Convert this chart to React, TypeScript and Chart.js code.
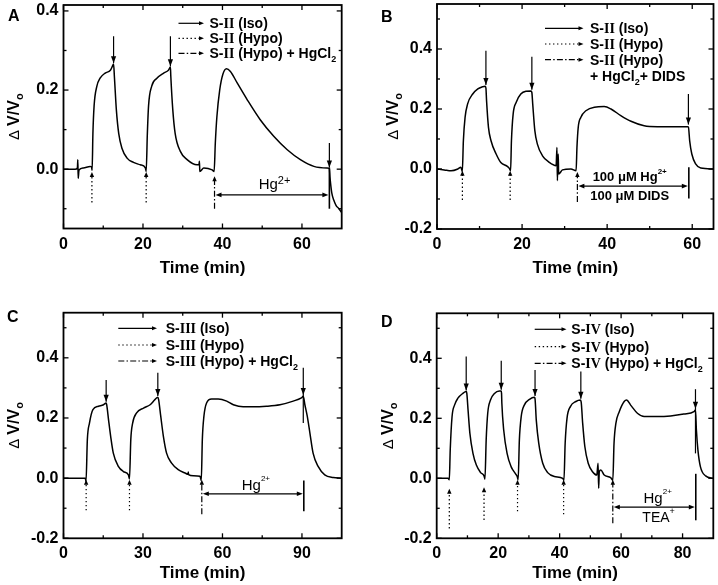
import React, { useEffect, useRef } from "react";
import { Chart, registerables } from "chart.js";

Chart.register(...registerables);

const SANS = "'Liberation Sans', Arial, Helvetica, sans-serif";
const SERIF = "'Liberation Serif', 'Times New Roman', serif";

// ================= Panel A (S-II, HgCl2) =================
const aTime = [0, 2.9, 3.5, 3.6, 3.7, 3.9, 5.0, 6.7, 7.05, 7.2, 7.4, 7.7, 8.4, 9.2, 10.5, 11.8, 12.3, 12.6, 12.8, 13.3, 13.9, 14.7, 16.0, 17.6, 19.3, 20.6, 20.8, 21.1, 21.4, 22.2, 23.5, 25.2, 26.4, 26.9, 27.0, 27.5, 28.1, 29.4, 31.1, 33.6, 34.1, 34.2, 34.3, 35.3, 37.4, 37.9, 38.2, 38.6, 39.3, 40.1, 41.0, 42.0, 43.7, 46.2, 49.5, 52.9, 56.3, 59.6, 63.0, 66.3, 66.9, 67.05, 67.2, 67.5, 68.0, 68.6, 69.3, 70];
const aValue = [0, 0, 0.003, 0.024, -0.023, -0.002, 0.003, 0.007, 0.006, -0.003, 0.09, 0.16, 0.21, 0.23, 0.243, 0.25, 0.26, 0.266, 0.235, 0.15, 0.09, 0.053, 0.028, 0.017, 0.011, 0.003, -0.006, 0.09, 0.16, 0.21, 0.23, 0.243, 0.25, 0.258, 0.235, 0.15, 0.09, 0.045, 0.024, 0.011, 0.012, 0.02, -0.006, 0.003, -0.002, -0.006, 0.066, 0.133, 0.2, 0.24, 0.254, 0.247, 0.218, 0.176, 0.125, 0.083, 0.049, 0.024, 0.007, 0.003, 0.002, -0.02, -0.036, -0.06, -0.078, -0.092, -0.1, -0.11];
const aXTicks = [0, 20, 40, 60];
const aXMinor = [10, 30, 50];
const aYTicks = [0, 0.2, 0.4];
const aYMinor = [-0.1, 0.1, 0.3];
const aIsoTime = [12.6, 26.9, 66.9];
const aIsoTop = [0.336, 0.336, 0.066];
const aIsoTip = [0.268, 0.26, 0.004];
const aIsoEnd = [0.268, 0.26, 0.004];
const aHypoTime = [7.15, 20.8];
const aHypoBottom = [-0.084, -0.084];
const aHypoTip = [-0.007, -0.007];
const aHg = [38.0, -0.1, -0.018]; // time, bottom, tip
const aBar = [66.9, 0.004, -0.1]; // time, top, bottom
const aSpanY = -0.065;
const aNoteTime = [53.1];
const aNoteValue = [-0.05];

// ================= Panel B (S-II, HgCl2 + DIDS) =================
const bTime = [0, 1.7, 3.3, 4.9, 5.6, 5.95, 6.2, 6.6, 7.2, 8.4, 9.6, 10.7, 11.3, 11.5, 11.65, 12.1, 12.7, 13.9, 15.0, 16.6, 17.0, 17.3, 17.5, 17.9, 18.6, 19.7, 20.9, 22.1, 22.3, 22.5, 23.0, 23.6, 24.8, 26.4, 28.0, 28.2, 28.3, 28.5, 28.6, 29.5, 31.5, 32.7, 32.9, 33.2, 33.8, 35.0, 37.0, 39.3, 40.9, 43.2, 45.6, 48.7, 51.8, 55.8, 58.9, 59.1, 59.4, 59.9, 60.8, 62.0, 65];
const bValue = [0, -0.003, -0.006, 0, 0.006, -0.008, 0.094, 0.172, 0.217, 0.25, 0.267, 0.274, 0.276, 0.27, 0.228, 0.139, 0.094, 0.05, 0.022, 0.008, 0.002, -0.006, 0.094, 0.183, 0.222, 0.25, 0.259, 0.26, 0.255, 0.217, 0.128, 0.083, 0.044, 0.022, 0.011, 0.072, -0.039, 0.05, -0.017, -0.003, 0, -0.006, 0.072, 0.139, 0.172, 0.194, 0.206, 0.208, 0.2, 0.178, 0.159, 0.144, 0.141, 0.141, 0.141, 0.14, 0.094, 0.05, 0.017, 0.003, 0];
const bXTicks = [0, 20, 40, 60];
const bXMinor = [10, 30, 50];
const bYTicks = [-0.2, 0, 0.2, 0.4];
const bYMinor = [-0.1, 0.1, 0.3, 0.5];
const bIsoTime = [11.5, 22.3, 59.1];
const bIsoTop = [0.394, 0.374, 0.25];
const bIsoTip = [0.28, 0.264, 0.148];
const bIsoEnd = [0.28, 0.264, 0.148];
const bHypoTime = [5.97, 17.2];
const bHypoBottom = [-0.103, -0.103];
const bHypoTip = [-0.006, -0.006];
const bHg = [33.0, -0.11, -0.01];
const bBar = [59.2, 0.006, -0.098];
const bSpanY = -0.057;
const bNoteTime = [45.3, 45.3];
const bNoteValue = [-0.039, -0.103];

// ================= Panel C (S-III, HgCl2) =================
const cTime = [0, 8.2, 8.5, 9.0, 9.8, 11.1, 13.2, 15.1, 16.1, 16.3, 17.0, 17.8, 18.8, 20.7, 22.6, 24.5, 24.9, 25.4, 26.1, 27.6, 30.2, 32.7, 34.5, 35.6, 35.9, 36.7, 37.7, 38.9, 40.8, 43.3, 45.9, 47.0, 47.1, 47.2, 49.0, 51.5, 52.0, 52.4, 53.0, 54.0, 55.9, 58.4, 61.6, 64.1, 67.8, 71.6, 76.6, 81.7, 86.7, 89.8, 90.5, 91.1, 92.0, 93.0, 94.2, 96.1, 98.6, 101.8, 105];
const cValue = [0, 0, -0.011, 0.128, 0.183, 0.228, 0.239, 0.244, 0.25, 0.244, 0.194, 0.139, 0.083, 0.039, 0.022, 0.011, -0.003, 0.128, 0.183, 0.217, 0.233, 0.244, 0.261, 0.269, 0.261, 0.206, 0.139, 0.083, 0.05, 0.028, 0.017, 0.013, 0.02, 0.012, 0.008, 0.006, -0.008, 0.128, 0.206, 0.25, 0.263, 0.263, 0.256, 0.244, 0.237, 0.237, 0.239, 0.244, 0.256, 0.267, 0.272, 0.244, 0.206, 0.15, 0.083, 0.039, 0.011, 0.002, 0];
const cXTicks = [0, 30, 60, 90];
const cXMinor = [15, 45, 75];
const cYTicks = [-0.2, 0, 0.2, 0.4];
const cYMinor = [-0.1, 0.1, 0.3, 0.5];
const cIsoTime = [16.1, 35.6, 90.5];
const cIsoTop = [0.326, 0.35, 0.367];
const cIsoTip = [0.254, 0.273, 0.276];
const cIsoEnd = [0.254, 0.273, 0.183];
const cHypoTime = [8.55, 24.9];
const cHypoBottom = [-0.107, -0.107];
const cHypoTip = [-0.005, -0.005];
const cHg = [52.2, -0.12, -0.005];
const cBar = [90.7, -0.008, -0.11];
const cSpanY = -0.052;
const cNoteTime = [72.6];
const cNoteValue = [-0.038];

// ================= Panel D (S-IV, HgCl2 + TEA) =================
const dTime = [0, 3.7, 4.1, 4.4, 5.0, 5.8, 6.9, 8.5, 9.6, 9.8, 10.2, 10.8, 11.8, 12.9, 14.3, 15.4, 15.7, 16.1, 16.6, 17.5, 18.8, 20.4, 21.0, 21.1, 21.2, 21.8, 22.9, 24.2, 25.5, 26.2, 26.5, 26.9, 27.5, 28.5, 30.2, 31.8, 32.0, 32.4, 33.2, 34.5, 36.1, 38.3, 41.0, 41.4, 41.8, 42.4, 43.5, 45.3, 46.7, 47.0, 47.5, 48.2, 49.3, 50.7, 52.1, 52.5, 52.7, 52.9, 53.4, 54.5, 56.6, 57.3, 57.7, 58.3, 59.4, 61.0, 61.8, 63.1, 65.3, 67.5, 71.8, 76.1, 80.4, 83.7, 84.2, 84.5, 85.0, 85.8, 87.5, 90];
const dValue = [0, 0, -0.005, 0.094, 0.206, 0.244, 0.267, 0.283, 0.289, 0.283, 0.228, 0.15, 0.083, 0.044, 0.019, 0.008, -0.003, 0.128, 0.217, 0.261, 0.283, 0.291, 0.291, 0.283, 0.25, 0.161, 0.083, 0.039, 0.017, 0.006, -0.005, 0.128, 0.206, 0.244, 0.263, 0.27, 0.265, 0.194, 0.117, 0.05, 0.019, 0.006, 0, -0.007, 0.117, 0.2, 0.239, 0.256, 0.261, 0.255, 0.183, 0.106, 0.05, 0.022, 0.011, 0.05, -0.033, 0.022, 0.028, 0.011, 0.002, -0.007, 0.117, 0.183, 0.222, 0.256, 0.261, 0.244, 0.217, 0.206, 0.206, 0.208, 0.214, 0.222, 0.228, 0.161, 0.094, 0.039, 0.008, 0];
const dXTicks = [0, 20, 40, 60, 80];
const dXMinor = [10, 30, 50, 70];
const dYTicks = [-0.2, 0, 0.2, 0.4];
const dYMinor = [-0.1, 0.1, 0.3, 0.5];
const dIsoTime = [9.6, 21.0, 32.0, 46.9, 84.2];
const dIsoTop = [0.406, 0.392, 0.361, 0.356, 0.297];
const dIsoTip = [0.293, 0.295, 0.274, 0.265, 0.232];
const dIsoEnd = [0.293, 0.295, 0.274, 0.265, 0.083];
const dHypoTime = [4.1, 15.4, 26.3, 41.3];
const dHypoBottom = [-0.167, -0.139, -0.11, -0.12];
const dHypoTip = [-0.035, -0.03, -0.005, -0.005];
const dHg = [57.3, -0.15, -0.005];
const dBar = [84.3, 0.015, -0.14];
const dSpanY = -0.096;
const dNoteTime = [71.9, 72.2];
const dNoteValue = [-0.081, -0.145];

// ================= helpers =================
type Part = { s: string; f: string; dy?: number };
const bold = (n: number) => `bold ${n}px ${SANS}`;
const reg = (n: number) => `${n}px ${SANS}`;
const romanF = (n: number) => `bold ${n}px ${SERIF}`;

function partsWidth(ctx: CanvasRenderingContext2D, parts: Part[]) {
  let w = 0;
  parts.forEach((p) => { ctx.font = p.f; w += ctx.measureText(p.s).width; });
  return w;
}
function drawParts(ctx: CanvasRenderingContext2D, parts: Part[], x: number, y: number, center = false) {
  let cx = center ? x - partsWidth(ctx, parts) / 2 : x;
  ctx.textAlign = "left";
  ctx.textBaseline = "alphabetic";
  parts.forEach((p) => {
    ctx.font = p.f;
    ctx.fillText(p.s, cx, y + (p.dy || 0));
    cx += ctx.measureText(p.s).width;
  });
}

function legendRows(roman: string, extraB: boolean): Part[][] {
  const L = 14;
  const rows: Part[][] = [
    [{ s: "S-", f: bold(L) }, { s: roman, f: romanF(L) }, { s: " (Iso)", f: bold(L) }],
    [{ s: "S-", f: bold(L) }, { s: roman, f: romanF(L) }, { s: " (Hypo)", f: bold(L) }],
  ];
  if (extraB) {
    rows.push([{ s: "S-", f: bold(L) }, { s: roman, f: romanF(L) }, { s: " (Hypo)", f: bold(L) }]);
    rows.push([{ s: "+ HgCl", f: bold(L) }, { s: "2", f: bold(9), dy: 4 }, { s: "+ DIDS", f: bold(L) }]);
  } else {
    rows.push([{ s: "S-", f: bold(L) }, { s: roman, f: romanF(L) }, { s: " (Hypo) + HgCl", f: bold(L) }, { s: "2", f: bold(9), dy: 4 }]);
  }
  return rows;
}

type Spec = {
  letter: string; x: number; y: number; w: number; h: number;
  area: { left: number; right: number; top: number; bottom: number };
  xMin: number; xMax: number; yMin: number; yMax: number;
  time: number[]; value: number[];
  xTicks: number[]; xMinor: number[]; yTicks: number[]; yMinor: number[];
  isoT: number[]; isoTop: number[]; isoTip: number[]; isoEnd: number[];
  hypoT: number[]; hypoBottom: number[]; hypoTip: number[];
  hg: number[]; bar: number[]; spanY: number;
  notes: { t: number; v: number; parts: Part[] }[];
  legend: { x1: number; x2: number; tx: number; base: number[]; rows: Part[][] };
  letterPos: [number, number]; yTitleX: number; xTitleBase: number;
};

const specA: Spec = {
  letter: "A", x: 0, y: 0, w: 359, h: 292,
  area: { left: 63.5, right: 341.7, top: 5, bottom: 228.5 },
  xMin: 0, xMax: 70, yMin: -0.15, yMax: 0.415,
  time: aTime, value: aValue, xTicks: aXTicks, xMinor: aXMinor, yTicks: aYTicks, yMinor: aYMinor,
  isoT: aIsoTime, isoTop: aIsoTop, isoTip: aIsoTip, isoEnd: aIsoEnd,
  hypoT: aHypoTime, hypoBottom: aHypoBottom, hypoTip: aHypoTip,
  hg: aHg, bar: aBar, spanY: aSpanY,
  notes: [{ t: aNoteTime[0], v: aNoteValue[0], parts: [{ s: "Hg", f: reg(15) }, { s: "2+", f: reg(11), dy: -5 }] }],
  legend: { x1: 178.5, x2: 204, tx: 209.5, base: [28.3, 43.3, 58.3], rows: legendRows("II", false) },
  letterPos: [8, 21], yTitleX: 18.5, xTitleBase: 273,
};
const specB: Spec = {
  letter: "B", x: 359, y: 0, w: 359, h: 292,
  area: { left: 78, right: 354.5, top: 4, bottom: 229 },
  xMin: 0, xMax: 65, yMin: -0.2, yMax: 0.55,
  time: bTime, value: bValue, xTicks: bXTicks, xMinor: bXMinor, yTicks: bYTicks, yMinor: bYMinor,
  isoT: bIsoTime, isoTop: bIsoTop, isoTip: bIsoTip, isoEnd: bIsoEnd,
  hypoT: bHypoTime, hypoBottom: bHypoBottom, hypoTip: bHypoTip,
  hg: bHg, bar: bBar, spanY: bSpanY,
  notes: [
    { t: bNoteTime[0], v: bNoteValue[0], parts: [{ s: "100 \u03BCM Hg", f: bold(13) }, { s: "2+", f: bold(8), dy: -7 }] },
    { t: bNoteTime[1], v: bNoteValue[1], parts: [{ s: "100 \u03BCM DIDS", f: bold(13) }] },
  ],
  legend: { x1: 186, x2: 224.5, tx: 231, base: [33.3, 49, 64.7, 81.3], rows: legendRows("II", true) },
  letterPos: [22, 22], yTitleX: 39, xTitleBase: 273,
};
const specC: Spec = {
  letter: "C", x: 0, y: 292, w: 359, h: 293,
  area: { left: 63.5, right: 341.7, top: 20.7, bottom: 246.3 },
  xMin: 0, xMax: 105, yMin: -0.2, yMax: 0.55,
  time: cTime, value: cValue, xTicks: cXTicks, xMinor: cXMinor, yTicks: cYTicks, yMinor: cYMinor,
  isoT: cIsoTime, isoTop: cIsoTop, isoTip: cIsoTip, isoEnd: cIsoEnd,
  hypoT: cHypoTime, hypoBottom: cHypoBottom, hypoTip: cHypoTip,
  hg: cHg, bar: cBar, spanY: cSpanY,
  notes: [{ t: cNoteTime[0], v: cNoteValue[0], parts: [{ s: "Hg", f: reg(15) }, { s: "2+", f: reg(8), dy: -9 }] }],
  legend: { x1: 118.3, x2: 157, tx: 165.7, base: [41.3, 58, 74], rows: legendRows("III", false) },
  letterPos: [7, 30], yTitleX: 19, xTitleBase: 286,
};
const specD: Spec = {
  letter: "D", x: 359, y: 292, w: 359, h: 293,
  area: { left: 77.7, right: 354.3, top: 21.3, bottom: 246.3 },
  xMin: 0, xMax: 90, yMin: -0.2, yMax: 0.55,
  time: dTime, value: dValue, xTicks: dXTicks, xMinor: dXMinor, yTicks: dYTicks, yMinor: dYMinor,
  isoT: dIsoTime, isoTop: dIsoTop, isoTip: dIsoTip, isoEnd: dIsoEnd,
  hypoT: dHypoTime, hypoBottom: dHypoBottom, hypoTip: dHypoTip,
  hg: dHg, bar: dBar, spanY: dSpanY,
  notes: [
    { t: dNoteTime[0], v: dNoteValue[0], parts: [{ s: "Hg", f: reg(15) }, { s: "2+", f: reg(8), dy: -9 }] },
    { t: dNoteTime[1], v: dNoteValue[1], parts: [{ s: "TEA", f: reg(14) }, { s: "+", f: reg(9), dy: -8 }] },
  ],
  legend: { x1: 175.7, x2: 207.5, tx: 212.3, base: [42.3, 59.7, 76.3], rows: legendRows("IV", false) },
  letterPos: [22, 35], yTitleX: 33.5, xTitleBase: 286,
};

const SPECS = [specA, specB, specC, specD];

function head(ctx: CanvasRenderingContext2D, x: number, y: number, dir: "up" | "down" | "left" | "right", len: number, half: number) {
  ctx.setLineDash([]);
  ctx.beginPath();
  if (dir === "down") { ctx.moveTo(x, y); ctx.lineTo(x - half, y - len); ctx.lineTo(x + half, y - len); }
  if (dir === "up") { ctx.moveTo(x, y); ctx.lineTo(x - half, y + len); ctx.lineTo(x + half, y + len); }
  if (dir === "left") { ctx.moveTo(x, y); ctx.lineTo(x + len, y - half); ctx.lineTo(x + len, y + half); }
  if (dir === "right") { ctx.moveTo(x, y); ctx.lineTo(x - len, y - half); ctx.lineTo(x - len, y + half); }
  ctx.closePath();
  ctx.fill();
}
function seg(ctx: CanvasRenderingContext2D, x1: number, y1: number, x2: number, y2: number, dash: number[] = []) {
  ctx.setLineDash(dash);
  ctx.beginPath();
  ctx.moveTo(x1, y1);
  ctx.lineTo(x2, y2);
  ctx.stroke();
  ctx.setLineDash([]);
}
const DOT = [1.4, 2.6];
const DASHDOT = [6, 2.2, 1.5, 2.2];

function decorPlugin(s: Spec) {
  return {
    id: "decor" + s.letter,
    afterDraw(chart: any) {
      const ctx: CanvasRenderingContext2D = chart.ctx;
      const { left, right, top, bottom } = chart.chartArea;
      const X = (t: number) => chart.scales.x.getPixelForValue(t);
      const Y = (v: number) => chart.scales.y.getPixelForValue(v);
      ctx.save();
      ctx.strokeStyle = "#000";
      ctx.fillStyle = "#000";
      // frame
      ctx.lineWidth = 1.8;
      ctx.strokeRect(left, top, right - left, bottom - top);
      // inward ticks
      ctx.lineWidth = 1.3;
      s.xTicks.forEach((v) => { const x = X(v); seg(ctx, x, bottom, x, bottom - 5); seg(ctx, x, top, x, top + 5); });
      s.xMinor.forEach((v) => { const x = X(v); seg(ctx, x, bottom, x, bottom - 3); seg(ctx, x, top, x, top + 3); });
      s.yTicks.forEach((v) => { const y = Y(v); seg(ctx, left, y, left + 5, y); seg(ctx, right, y, right - 5, y); });
      s.yMinor.forEach((v) => { const y = Y(v); seg(ctx, left, y, left + 3, y); seg(ctx, right, y, right - 3, y); });

      // Iso arrows (solid, pointing down)
      ctx.lineWidth = 1.2;
      s.isoT.forEach((t, i) => {
        const x = X(t);
        seg(ctx, x, Y(s.isoTop[i]), x, Y(s.isoEnd[i]));
        head(ctx, x, Y(s.isoTip[i]), "down", 7, 2.6);
      });
      // Hypo arrows (dotted, pointing up)
      s.hypoT.forEach((t, i) => {
        const x = X(t);
        const tip = Y(s.hypoTip[i]);
        seg(ctx, x, Y(s.hypoBottom[i]), x, tip + 4, DOT);
        head(ctx, x, tip, "up", 5, 2.2);
      });
      // HgCl2 arrow (dash-dot, pointing up)
      {
        const x = X(s.hg[0]);
        const tip = Y(s.hg[2]);
        seg(ctx, x, Y(s.hg[1]), x, tip + 4, DASHDOT);
        head(ctx, x, tip, "up", 5, 2.2);
      }
      // end bar
      ctx.lineWidth = 1.6;
      seg(ctx, X(s.bar[0]), Y(s.bar[1]), X(s.bar[0]), Y(s.bar[2]));
      // span double arrow
      ctx.lineWidth = 1.2;
      {
        const x1 = X(s.hg[0]) + 1;
        const x2 = X(s.bar[0]) - 1;
        const y = Y(s.spanY);
        seg(ctx, x1 + 4, y, x2 - 4, y);
        head(ctx, x1, y, "left", 6, 2.3);
        head(ctx, x2, y, "right", 6, 2.3);
      }
      // notes
      s.notes.forEach((n) => drawParts(ctx, n.parts, X(n.t), Y(n.v), true));

      // legend
      const styles = [[], DOT, DASHDOT];
      s.legend.rows.forEach((row, i) => {
        const base = s.legend.base[i];
        if (i < 3) {
          const ly = base - 5;
          ctx.lineWidth = 1.2;
          seg(ctx, s.legend.x1, ly, s.legend.x2 - 4, ly, styles[i]);
          head(ctx, s.legend.x2, ly, "right", 5, 2);
        }
        drawParts(ctx, row, s.legend.tx, base);
      });

      // panel letter
      drawParts(ctx, [{ s: s.letter, f: bold(16) }], s.letterPos[0], s.letterPos[1]);

      // y title (rotated)
      ctx.save();
      ctx.translate(s.yTitleX, (top + bottom) / 2);
      ctx.rotate(-Math.PI / 2);
      drawParts(ctx, [
        { s: "\u0394 ", f: reg(15) },
        { s: "V/V", f: bold(16) },
        { s: "o", f: bold(11), dy: 4 },
      ], 0, 0, true);
      ctx.restore();

      // x title
      drawParts(ctx, [{ s: "Time (min)", f: bold(17) }], (left + right) / 2, s.xTitleBase, true);
      ctx.restore();
    },
  };
}

function Panel({ spec }: { spec: Spec }) {
  const ref = useRef<HTMLCanvasElement>(null);
  useEffect(() => {
    const s = spec;
    const canvas = ref.current as HTMLCanvasElement;
    const tickFont = { family: SANS, size: 16, weight: "bold" as const };
    const chart = new Chart(canvas, {
      type: "line",
      data: {
        datasets: [
          {
            data: s.time.map((t, i) => ({ x: t, y: s.value[i] })),
            borderColor: "#000",
            borderWidth: 1.5,
            pointRadius: 0,
            fill: false,
            cubicInterpolationMode: "monotone",
          },
        ],
      },
      options: {
        responsive: false,
        animation: false,
        devicePixelRatio: 1,
        layout: { padding: { left: 0, top: s.area.top, right: s.w - s.area.right, bottom: 0 } },
        plugins: { legend: { display: false }, tooltip: { enabled: false } },
        scales: {
          x: {
            type: "linear",
            min: s.xMin,
            max: s.xMax,
            grid: { display: false, drawTicks: false },
            border: { display: false },
            ticks: { font: tickFont, color: "#000", padding: 6, maxRotation: 0, autoSkip: false, callback: (v: any) => String(v) },
            afterBuildTicks: (sc: any) => { sc.ticks = s.xTicks.map((v) => ({ value: v })); },
            afterFit: (sc: any) => { sc.height = s.h - s.area.bottom; sc.paddingLeft = 0; sc.paddingRight = 0; },
          },
          y: {
            type: "linear",
            min: s.yMin,
            max: s.yMax,
            grid: { display: false, drawTicks: false },
            border: { display: false },
            ticks: { font: tickFont, color: "#000", padding: 5, autoSkip: false, callback: (v: any) => Number(v).toFixed(1) },
            afterBuildTicks: (sc: any) => { sc.ticks = s.yTicks.map((v) => ({ value: v })); },
            afterFit: (sc: any) => { sc.width = s.area.left; sc.paddingTop = 0; sc.paddingBottom = 0; },
          },
        },
      } as any,
      plugins: [decorPlugin(s)],
    });
    return () => chart.destroy();
  }, [spec]);
  return (
    <canvas
      ref={ref}
      width={spec.w}
      height={spec.h}
      style={{ position: "absolute", left: spec.x, top: spec.y, width: spec.w, height: spec.h }}
    />
  );
}

export default function App() {
  return (
    <div style={{ position: "fixed", left: 0, top: 0, width: 718, height: 585, background: "#fff", overflow: "hidden" }}>
      {SPECS.map((s) => (
        <Panel key={s.letter} spec={s} />
      ))}
    </div>
  );
}
